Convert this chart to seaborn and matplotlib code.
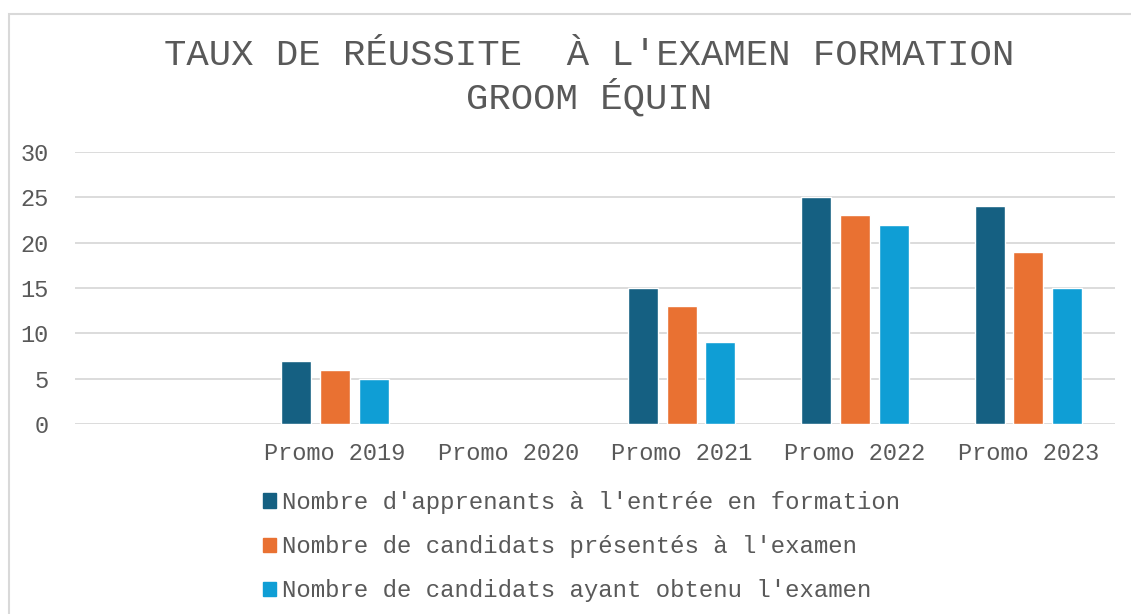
import pandas as pd
import numpy as np
import matplotlib
matplotlib.use('Agg')
import matplotlib.pyplot as plt
import matplotlib.patches as mpatches
import seaborn as sns

# Données
promos = ['', 'Promo 2019', 'Promo 2020', 'Promo 2021', 'Promo 2022', 'Promo 2023']
series = ["Nombre d'apprenants à l'entrée en formation",
          "Nombre de candidats présentés à l'examen",
          "Nombre de candidats ayant obtenu l'examen"]
apprenants = [np.nan, 7, np.nan, 15, 25, 24]
presentes = [np.nan, 6, np.nan, 13, 23, 19]
obtenus = [np.nan, 5, np.nan, 9, 22, 15]

df = pd.DataFrame({
    'promo': promos * 3,
    'serie': [series[0]] * 6 + [series[1]] * 6 + [series[2]] * 6,
    'valeur': apprenants + presentes + obtenus,
})

sns.set_style('white')
plt.rcParams['font.family'] = ['Liberation Mono', 'DejaVu Sans']
gris = '#595959'
couleurs = ['#156082', '#E97132', '#0F9ED5']

fig = plt.figure(figsize=(11.31, 6.14), dpi=100)
ax = fig.add_axes([75 / 1131, 1 - 424 / 614, 1040 / 1131, 272 / 614])

sns.barplot(data=df, x='promo', y='valeur', hue='serie', order=promos,
            hue_order=series, palette=couleurs, width=0.667, gap=0.22,
            ax=ax, legend=True, saturation=1)

ax.set_ylim(0, 30)
ax.set_yticks(range(0, 31, 5))
ax.set_xlim(-0.5, 5.5)
ax.grid(axis='y', color='#D9D9D9', linewidth=1.3)
ax.set_axisbelow(True)
sns.despine(ax=ax, left=True, bottom=True)
ax.tick_params(axis='both', length=0, labelsize=17, colors=gris)
ax.tick_params(axis='y', pad=19)
ax.tick_params(axis='x', pad=13)
ax.set_xlabel('')
ax.set_ylabel('')

# Légende
handles = [mpatches.Patch(color=c) for c in couleurs]
ax.legend(handles, series, loc='upper left', bbox_to_anchor=(263 / 1131, 1 - 491 / 614),
          bbox_transform=fig.transFigure, frameon=False, fontsize=17.3,
          labelcolor=gris, handlelength=0.53, handleheight=0.53,
          handletextpad=0.25, labelspacing=0.88, borderpad=0, borderaxespad=0)

# Titre
fig.text(589 / 1131, 1 - 77 / 614, "TAUX DE RÉUSSITE  À L'EXAMEN FORMATION\nGROOM ÉQUIN",
         ha='center', va='center', fontsize=26.8, color=gris, linespacing=1.18)

# Cadre
fig.patches.append(mpatches.Rectangle((9 / 1131, -0.1), 1.2, 1.1 - 14 / 614,
                                      transform=fig.transFigure, fill=False,
                                      edgecolor='#D9D9D9', linewidth=1.5))

fig.savefig('out.png', dpi=100)
